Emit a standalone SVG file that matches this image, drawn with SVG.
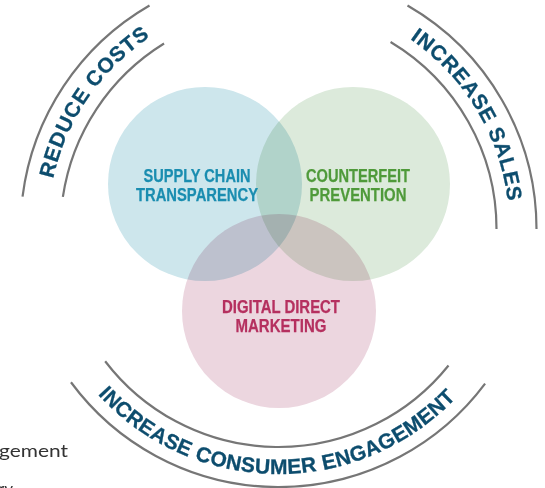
<svg xmlns="http://www.w3.org/2000/svg" width="545" height="488" viewBox="0 0 545 488">
  <defs>
    <style>
      .arc { fill: none; stroke: #767676; stroke-width: 2.2; stroke-linecap: butt; }
      .curved { font-family: "Liberation Sans", Arial, sans-serif; font-weight: bold; font-size: 21px; letter-spacing: 0.8px; fill: #0d4d6e; stroke: #0d4d6e; stroke-width: 0.3px; }
      .venn { mix-blend-mode: multiply; }
      .lbl { font-family: "Liberation Sans", Arial, sans-serif; font-weight: bold; font-size: 17.5px; text-anchor: middle; stroke-width: 0.25px; }
      .side { font-family: "Lato", "Liberation Sans", sans-serif; font-size: 17px; fill: #333333; }
    </style>
    <path id="pReduce" d="M 48.21 210.88 A 231 231 0 0 1 179.05 20.50"/>
    <path id="pSales" d="M 390.49 26.96 A 231 231 0 0 1 509.47 224.97"/>
    <path id="pEngage" d="M 76.59 367.77 A 245 245 0 0 0 477.96 371.27"/>
  </defs>

  <rect x="0" y="0" width="545" height="488" fill="#ffffff"/>

  <g id="venn" style="isolation:isolate">
    <g id="node-supply-chain">
      <circle class="venn" cx="205" cy="184" r="97" fill="#cde6ec"/>
    </g>
    <g id="node-counterfeit">
      <circle class="venn" cx="353" cy="184" r="97" fill="#dceadb"/>
    </g>
    <g id="node-digital">
      <circle class="venn" cx="279" cy="311" r="97" fill="#ecd6df"/>
    </g>
  </g>

  <g id="labels">
    <text class="lbl" fill="#1a8db0" stroke="#1a8db0"><tspan x="197" y="182" textLength="107" lengthAdjust="spacingAndGlyphs">SUPPLY CHAIN</tspan><tspan x="197" y="201" textLength="122" lengthAdjust="spacingAndGlyphs">TRANSPARENCY</tspan></text>
    <text class="lbl" fill="#4f9a3a" stroke="#4f9a3a"><tspan x="358" y="182" textLength="104" lengthAdjust="spacingAndGlyphs">COUNTERFEIT</tspan><tspan x="358" y="201" textLength="97" lengthAdjust="spacingAndGlyphs">PREVENTION</tspan></text>
    <text class="lbl" fill="#b5305f" stroke="#b5305f"><tspan x="281" y="313" textLength="118" lengthAdjust="spacingAndGlyphs">DIGITAL DIRECT</tspan><tspan x="281" y="332" textLength="91" lengthAdjust="spacingAndGlyphs">MARKETING</tspan></text>
  </g>

  <g id="connectors">
    <path class="arc" d="M 22.54 196.66 A 258 258 0 0 1 149.5 5.57"/>
    <path class="arc" d="M 62.87 196.96 A 218 218 0 0 1 164.05 43.46"/>
    <path class="arc" d="M 407.5 5.57 A 258 258 0 0 1 536.5 229"/>
    <path class="arc" d="M 390.57 42.01 A 218 218 0 0 1 496.5 229"/>
    <path class="arc" d="M 70.96 382.27 A 258 258 0 0 0 485.09 383.55"/>
    <path class="arc" d="M 105.16 361.21 A 218 218 0 0 0 448.52 365.44"/>
  </g>

  <g id="node-reduce-costs">
    <text class="curved"><textPath href="#pReduce" startOffset="50%" text-anchor="middle">REDUCE COSTS</textPath></text>
  </g>
  <g id="node-increase-sales">
    <text class="curved"><textPath href="#pSales" startOffset="50%" text-anchor="middle">INCREASE SALES</textPath></text>
  </g>
  <g id="node-consumer-engagement">
    <text class="curved" style="letter-spacing:0.3px"><textPath href="#pEngage" startOffset="50%" text-anchor="middle">INCREASE CONSUMER ENGAGEMENT</textPath></text>
  </g>

  <g id="side-text">
    <text class="side" x="-1" y="457" textLength="69" lengthAdjust="spacingAndGlyphs">gement</text>
    <text class="side" x="-2" y="495">ry</text>
  </g>
</svg>
